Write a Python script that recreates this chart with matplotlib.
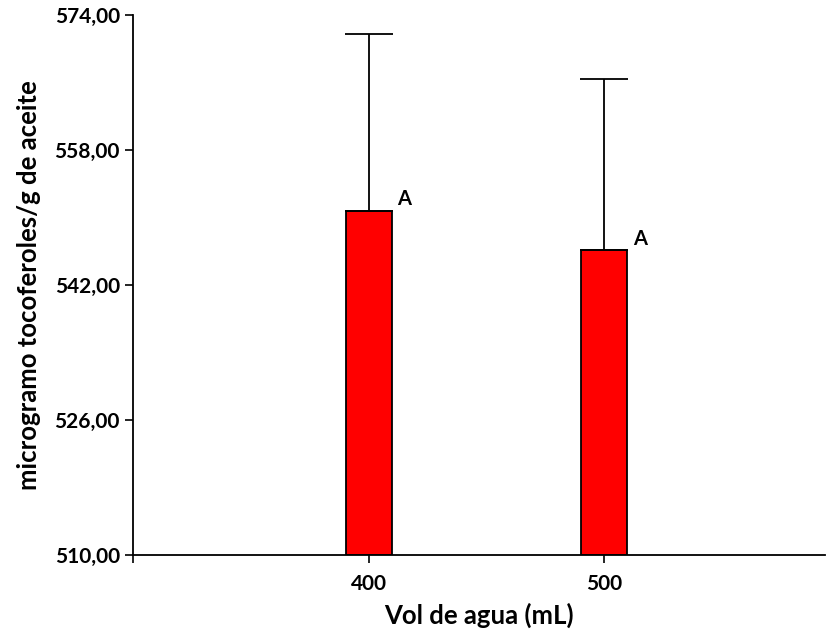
import matplotlib
matplotlib.use("Agg")
import matplotlib.pyplot as plt

categories = [400, 500]
means = [550.8, 546.1]
upper_err = [20.9, 20.3]
letters = ["A", "A"]
yticks = [510, 526, 542, 558, 574]
ytick_labels = ["510,00", "526,00", "542,00", "558,00", "574,00"]

plt.rcParams['font.family'] = ['Lato', 'DejaVu Sans']

fig = plt.figure(figsize=(8.31, 6.32), dpi=100)
ax = fig.add_axes([133/831, (632-555)/632, (825-133)/831, (555-15)/632])

ax.bar(categories, [m - 510 for m in means], bottom=510, width=19.5,
       color="#ff0000", edgecolor="black", linewidth=1.3, zorder=2)
ax.errorbar(categories, means, yerr=[[0, 0], upper_err], fmt='none',
            ecolor='black', elinewidth=1.3, capsize=17, capthick=1.3, zorder=3)

for x, m, t in zip(categories, means, letters):
    ax.annotate(t, (x + 9.75, m), xytext=(4, 1), textcoords='offset points',
                ha='left', va='bottom', fontsize=14.5, fontweight='bold')

ax.set_xlim(300, 593.6)
ax.set_ylim(510, 574)
ax.set_yticks(yticks)
ax.set_yticklabels(ytick_labels)
ax.set_xticks([300, 400, 500])
ax.set_xticklabels(["", "400", "500"])
ax.tick_params(axis='both', labelsize=15, width=1.2, length=6, direction='out')
ax.tick_params(axis='x', pad=8)
for lbl in ax.get_yticklabels() + ax.get_xticklabels():
    lbl.set_fontweight('bold')

for s in ['top', 'right']:
    ax.spines[s].set_visible(False)
for s in ['left', 'bottom']:
    ax.spines[s].set_linewidth(1.3)

ax.set_xlabel("Vol de agua (mL)", fontsize=18.5, fontweight='bold', labelpad=6)
ax.set_ylabel("microgramo tocoferoles/g de aceite", fontsize=18.5, fontweight='bold', labelpad=10)

fig.savefig("out.png", dpi=100)
